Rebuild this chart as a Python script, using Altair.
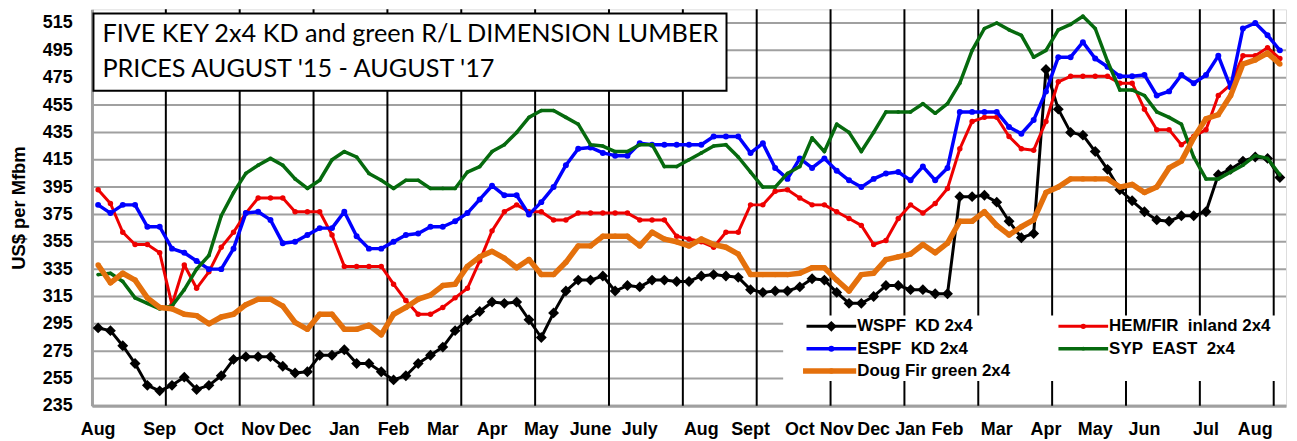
import altair as alt
import pandas as pd

# ---------------- data (weekly prices, US$ per Mfbm) ----------------
wspf = [292, 290, 279, 266, 250, 246, 250, 256, 247, 250, 257, 269, 271, 271, 271, 264, 259, 260, 272, 272,
        276, 266, 266, 260, 254, 257, 266, 272, 278, 290, 298, 304, 311, 310, 311, 298, 285, 303, 319, 327,
        327, 330, 319, 323, 322, 327, 327, 326, 326, 330, 331, 330, 329, 320, 318, 319, 319, 322, 328, 327,
        318, 310, 310, 315, 323, 323, 320, 320, 317, 317, 388, 388, 389, 384, 370, 358, 361, 481, 452, 435,
        433, 421, 408, 393, 385, 377, 371, 370, 374, 374, 377, 404, 408, 414, 417, 416, 402]
hemfir = [393, 383, 362, 353, 353, 347, 309, 338, 321, 333, 351, 362, 376, 387, 387, 387, 377, 377, 377, 360,
          337, 337, 337, 337, 324, 312, 302, 302, 307, 314, 321, 341, 363, 377, 382, 377, 377, 371, 371, 376,
          376, 376, 376, 376, 371, 371, 371, 359, 357, 355, 351, 362, 362, 382, 382, 392, 393, 387, 382, 382,
          377, 372, 367, 353, 356, 372, 382, 376, 383, 394, 423, 443, 446, 446, 432, 423, 422, 443, 472, 476,
          476, 476, 476, 471, 471, 452, 437, 437, 426, 432, 437, 462, 470, 491, 491, 497, 489]
espf = [382, 376, 382, 382, 366, 366, 350, 347, 341, 335, 335, 350, 376, 377, 371, 354, 355, 360, 365, 365,
        377, 359, 350, 350, 355, 360, 361, 366, 366, 370, 376, 386, 396, 389, 389, 375, 384, 395, 411, 423,
        424, 420, 418, 418, 427, 426, 426, 426, 426, 426, 432, 432, 432, 420, 427, 409, 401, 416, 409, 416,
        407, 400, 395, 401, 405, 406, 400, 410, 400, 409, 450, 450, 450, 450, 439, 434, 444, 465, 490, 490,
        501, 489, 483, 476, 476, 477, 462, 465, 477, 471, 477, 491, 468, 511, 515, 506, 495]
syp = [331, 332, 326, 314, 310, 306, 308, 320, 335, 345, 374, 391, 405, 411, 416, 411, 401, 394, 400, 415,
       421, 417, 405, 400, 394, 400, 400, 394, 394, 394, 406, 410, 421, 426, 435, 446, 451, 451, 446, 441,
       426, 425, 421, 421, 426, 426, 410, 410, 415, 420, 425, 426, 417, 406, 395, 395, 405, 410, 431, 421,
       441, 435, 421, 435, 450, 450, 450, 456, 449, 456, 471, 495, 511, 515, 510, 506, 490, 495, 510, 514,
       520, 511, 487, 466, 466, 462, 450, 446, 441, 417, 401, 401, 406, 411, 418, 416, 404]
dougfir = [338, 325, 332, 327, 314, 307, 306, 302, 301, 295, 300, 302, 309, 313, 313, 308, 296, 291, 302, 302,
           291, 291, 294, 287, 302, 307, 313, 316, 323, 324, 337, 344, 348, 343, 336, 342, 331, 331, 340, 352,
           352, 359, 359, 359, 352, 362, 357, 355, 352, 357, 353, 351, 346, 331, 331, 331, 331, 332, 336, 336,
           327, 319, 331, 332, 342, 344, 346, 353, 347, 354, 370, 370, 377, 367, 360, 366, 371, 391, 395, 401,
           401, 401, 401, 395, 397, 391, 395, 409, 414, 431, 445, 448, 462, 485, 488, 493, 485]

series_names = ["WSPF\u00a0 KD 2x4", "HEM/FIR\u00a0 inland 2x4", "ESPF\u00a0 KD 2x4",
                "SYP\u00a0 EAST\u00a0 2x4", "Doug Fir green 2x4"]
series_values = [wspf, hemfir, espf, syp, dougfir]

month_labels = ["Aug", "Sep", "Oct", "Nov", "Dec", "Jan", "Feb", "Mar", "Apr", "May", "June", "July",
                "Aug", "Sept", "Oct", "Nov", "Dec", "Jan", "Feb", "Mar", "Apr", "May", "Jun", "Jul", "Aug"]
month_label_week = [0, 5, 9, 13, 16, 20, 24, 28, 32, 36, 40, 44, 49, 53, 57, 60, 63, 66, 69, 73, 77, 81, 85, 90, 94]

y_ticks = list(range(235, 516, 20))
title_lines = ["FIVE KEY 2x4 KD and green R/L DIMENSION LUMBER", "PRICES AUGUST '15 - AUGUST '17"]
y_title = "US$ per Mfbm"

# ---------------- styles ----------------
N = len(wspf)
W, H = 1201.5, 399
FONT = "Liberation Sans"
GRID = "#a0a0a0"
colors = ["#000000", "#ee0000", "#0000ff", "#066a0e", "#e4700c"]
widths = [3, 3, 3.5, 3.5, 5.5]
shapes = ["diamond", "circle", "circle", "circle", "circle"]
sizes = [120, 30, 36, 14, 30]

xscale = alt.Scale(domain=[0, N], nice=False, zero=False)
yscale = alt.Scale(domain=[235, 525], nice=False, zero=False)
yaxis = alt.Axis(
    values=y_ticks, labelFont=FONT, labelFontWeight="bold", labelFontSize=18, labelColor="black",
    ticks=False, labelPadding=20, domain=True, domainColor=GRID, domainWidth=3, grid=False,
    title=y_title, titleFont=FONT, titleFontWeight="bold", titleFontSize=18.5, titleColor="black",
    titleX=-73.5, titleY=H / 2, titleAngle=-90, titleAlign="center", titleBaseline="middle")
xaxis = alt.Axis(labels=False, ticks=False, domain=True, domainColor=GRID, domainWidth=3, grid=False, title=None)


def X(field):
    return alt.X(field, scale=xscale, axis=xaxis)


def Y(field):
    return alt.Y(field, scale=yscale, axis=yaxis)


# horizontal gridlines
grid = alt.Chart(pd.DataFrame({"t": y_ticks})).mark_rule(color=GRID, strokeWidth=2).encode(y=Y("t:Q"))

# vertical category gridlines every 6 weeks
vlines = alt.Chart(pd.DataFrame({"b": list(range(6, N, 6))})).mark_rule(
    color="black", strokeWidth=2).encode(x=X("b:Q"))

layers = [grid, vlines]
for k, vals in enumerate(series_values):
    df = pd.DataFrame({"w": [i + 0.5 for i in range(len(vals))], "v": vals})
    layers.append(
        alt.Chart(df).mark_line(
            color=colors[k], strokeWidth=widths[k], strokeJoin="round",
            point=alt.OverlayMarkDef(shape=shapes[k], size=sizes[k], filled=True, color=colors[k], opacity=1),
        ).encode(x=X("w:Q"), y=Y("v:Q"))
    )

one = pd.DataFrame({"a": [0]})

# title box
layers.append(alt.Chart(one).mark_rect(fill="white", stroke="black", strokeWidth=2).encode(
    x=alt.value(1.5), x2=alt.value(638.5), y=alt.value(4.3), y2=alt.value(82)))
for k, line in enumerate(title_lines):
    layers.append(alt.Chart(one).mark_text(text=line, font="Lato", fontSize=25.4, align="left",
                                           baseline="middle", color="black").encode(
        x=alt.value(10.5), y=alt.value(25 + 35 * k)))

# legend box
layers.append(alt.Chart(one).mark_rect(fill="white").encode(
    x=alt.value(695.5), x2=alt.value(W), y=alt.value(308), y2=alt.value(374)))
leg_pos = [(0, 0), (1, 0), (0, 1), (1, 1), (0, 2)]
for k, (c, r) in enumerate(leg_pos):
    x0 = 719 + c * 253.5
    yy = 319 + r * 22.5
    layers.append(alt.Chart(one).mark_rule(color=colors[k], strokeWidth=widths[k]).encode(
        x=alt.value(x0 - (3.5 if k == 4 else 0)), x2=alt.value(x0 + 50), y=alt.value(yy)))
    layers.append(alt.Chart(one).mark_point(shape=shapes[k], size=sizes[k], filled=True,
                                            color=colors[k], opacity=1).encode(
        x=alt.value(x0 + 25), y=alt.value(yy)))
    layers.append(alt.Chart(one).mark_text(text=series_names[k], font=FONT, fontWeight="bold", fontSize=17,
                                           align="left", baseline="middle", color="black").encode(
        x=alt.value(x0 + 51), y=alt.value(yy)))

# month labels
mdf = pd.DataFrame({"m": month_labels, "w": [i + 0.5 for i in month_label_week]})
layers.append(alt.Chart(mdf).mark_text(font=FONT, fontWeight="bold", fontSize=18, baseline="middle",
                                       align="center", color="black").encode(
    x=X("w:Q"), y=alt.value(H + 24), text="m:N"))

chart = alt.layer(*layers).properties(
    width=W, height=H,
    padding={"left": 84.5, "top": 0, "right": 3, "bottom": 34},
    autosize=alt.AutoSizeParams(type="none"),
).configure_view(stroke=GRID, strokeWidth=2).configure(background="white")

chart.save("out.html", embed_options={"renderer": "svg", "actions": False})
